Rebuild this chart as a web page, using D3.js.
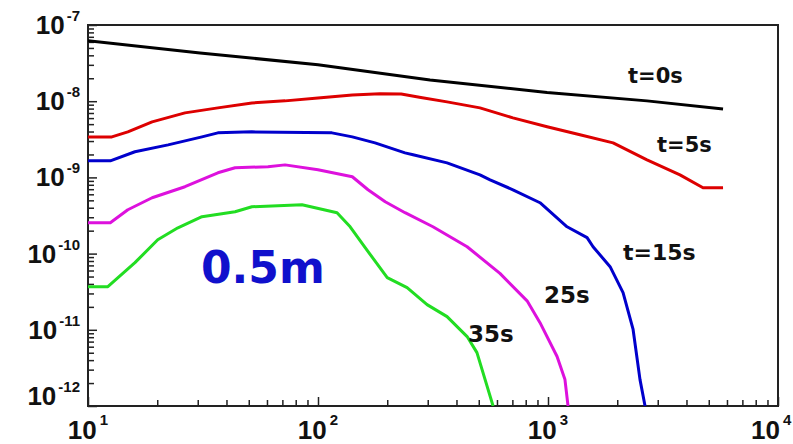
<!DOCTYPE html>
<html>
<head>
<meta charset="utf-8">
<script src="https://cdn.jsdelivr.net/npm/d3@7"></script>
<style>
  html, body { margin: 0; padding: 0; background: #fff; }
  svg { display: block; }
</style>
</head>
<body>
<svg id="chart" width="793" height="444"></svg>
<script>
// ---- data ----
const xTickExponents = [1, 2, 3, 4];
const yTickExponents = [-12, -11, -10, -9, -8, -7];

const seriesNames = ["t=0s", "t=5s", "t=15s", "25s", "35s"];

const t0 = [[10,6.2e-8],[30.7,4.3e-8],[100,3.0e-8],[307,1.9e-8],[991,1.3e-8],[2694,1.01e-8],[5768,7.9e-9]];
const t5 = [[10,3.4e-9],[12.7,3.4e-9],[14.9,3.96e-9],[19.0,5.36e-9],[26.4,7.03e-9],[36.7,8.17e-9],[51.6,9.5e-9],[71.9,1.01e-8],[100,1.10e-8],[141,1.21e-8],[186,1.25e-8],[230,1.24e-8],[280,1.12e-8],[364,9.8e-9],[506,8.17e-9],[704,6.04e-9],[991,4.61e-9],[1377,3.62e-9],[1919,2.84e-9],[2694,1.70e-9],[3748,1.08e-9],[4720,7.31e-10],[5768,7.31e-10]];
const t15 = [[10,1.65e-9],[12.5,1.65e-9],[16.0,2.17e-9],[22.3,2.67e-9],[31.3,3.40e-9],[36.7,3.84e-9],[51.6,3.96e-9],[115,3.84e-9],[141,3.40e-9],[177,2.84e-9],[239,2.10e-9],[259,1.98e-9],[364,1.55e-9],[506,1.08e-9],[560,9.3e-10],[704,6.88e-10],[923,4.65e-10],[1210,2.25e-10],[1479,1.62e-10],[1570,1.23e-10],[1862,6.73e-11],[2120,3.07e-11],[2344,1.01e-11],[2512,2.22e-12],[2642,1e-12]];
const t25 = [[10,2.54e-10],[12.5,2.54e-10],[14.9,3.76e-10],[19.0,5.41e-10],[26.4,7.54e-10],[36.7,1.15e-9],[43.6,1.34e-9],[60.6,1.38e-9],[71.9,1.46e-9],[100,1.26e-9],[141,1.02e-9],[165,6.88e-10],[196,4.79e-10],[239,3.44e-10],[316,2.25e-10],[445,1.23e-10],[618,5.5e-11],[811,2.4e-11],[923,1.24e-11],[1095,4.46e-12],[1185,2.22e-12],[1222,1e-12]];
const t35 = [[10,3.68e-11],[12.2,3.68e-11],[16.0,7.6e-11],[20.1,1.52e-10],[24.6,2.18e-10],[31.3,3.05e-10],[43.6,3.54e-10],[51.6,4.12e-10],[85.2,4.38e-10],[121,3.44e-10],[138,2.25e-10],[163,1.12e-10],[200,4.83e-11],[244,3.57e-11],[298,2.14e-11],[364,1.49e-11],[445,8.15e-12],[491,5.02e-12],[577,1e-12]];

const seriesData = [t0, t5, t15, t25, t35];
const seriesColors = ["#000000", "#dd0000", "#0000cc", "#dd11dd", "#22dd22"];

// label anchor points (left end of baseline) in data space
const labelPos = [[2228, 1.74e-8], [2978, 2.17e-9], [2120, 8.3e-11], [961, 2.28e-11], [449, 7.0e-12]];
const annotation = "0.5m";
const annotationPos = [31, 4.16e-11];

// ---- layout ----
const svg = d3.select("#chart");
const W = 793;
const L = 88, R = 778, T = 25, B = 406;
const x = d3.scaleLog().domain([10, 10000]).range([L, R]);
const y = d3.scaleLog().domain([1e-12, 1e-7]).range([B, T]);

svg.append("defs").append("clipPath").attr("id", "clip")
  .append("rect").attr("x", L).attr("y", T).attr("width", R - L).attr("height", B - T);

// minor ticks
const xMinor = [], yMinor = [];
for (let e = 1; e < 4; e++) for (let m = 2; m <= 9; m++) xMinor.push(m * Math.pow(10, e));
for (let e = -12; e < -7; e++) for (let m = 2; m <= 9; m++) yMinor.push(m * Math.pow(10, e));
const xMajor = xTickExponents.map(e => Math.pow(10, e));
const yMajor = yTickExponents.map(e => Math.pow(10, e));

function styleAxis(g) {
  g.select(".domain").remove();
  g.selectAll(".tick line").attr("stroke", "#222").attr("stroke-width", 1.5);
}

svg.append("g").attr("transform", `translate(0,${B})`)
  .call(d3.axisBottom(x).tickValues(xMinor).tickSize(-6).tickFormat(""))
  .call(styleAxis);
svg.append("g").attr("transform", `translate(0,${B})`)
  .call(d3.axisBottom(x).tickValues(xMajor).tickSize(-9).tickFormat(""))
  .call(styleAxis);
svg.append("g").attr("transform", `translate(${L},0)`)
  .call(d3.axisLeft(y).tickValues(yMinor).tickSize(-6).tickFormat(""))
  .call(styleAxis);
svg.append("g").attr("transform", `translate(${L},0)`)
  .call(d3.axisLeft(y).tickValues(yMajor).tickSize(-9).tickFormat(""))
  .call(styleAxis);

// frame
svg.append("rect").attr("x", L).attr("y", T).attr("width", R - L).attr("height", B - T)
  .attr("fill", "none").attr("stroke", "#222").attr("stroke-width", 2);

// curves
const line = d3.line().x(d => x(d[0])).y(d => y(d[1]));
const gLines = svg.append("g").attr("clip-path", "url(#clip)");
seriesData.forEach((s, i) => {
  gLines.append("path").datum(s).attr("d", line)
    .attr("fill", "none").attr("stroke", seriesColors[i])
    .attr("stroke-width", 3).attr("stroke-linejoin", "round");
});

// tick labels
const tickFont = "'Liberation Sans', Arial, Helvetica, sans-serif";
xTickExponents.forEach(e => {
  const t = svg.append("text").attr("x", x(Math.pow(10, e))).attr("y", 439)
    .attr("text-anchor", "middle").attr("font-family", tickFont)
    .attr("font-weight", "bold").attr("font-size", 26).attr("fill", "#111");
  t.append("tspan").text("10");
  t.append("tspan").attr("dy", -14).attr("dx", 3).attr("font-size", 15).text(String(e));
  // keep the last label inside the window
  const bb = t.node().getBBox();
  if (bb.x + bb.width > W - 1) t.attr("x", +t.attr("x") - (bb.x + bb.width - (W - 1)));
});
yTickExponents.forEach((e, i) => {
  const yy = y(Math.pow(10, e)) + (e === -12 ? -1 : 9);
  const t = svg.append("text").attr("x", 80).attr("y", yy)
    .attr("text-anchor", "end").attr("font-family", tickFont)
    .attr("font-weight", "bold").attr("font-size", 26).attr("fill", "#111");
  t.append("tspan").text("10");
  t.append("tspan").attr("dy", -13).attr("dx", 2).attr("font-size", 15).text(String(e));
});

// series labels
const labelFont = "'DejaVu Sans', Verdana, sans-serif";
const labelSizes = [21, 21, 22, 23, 23];
seriesNames.forEach((n, i) => {
  svg.append("text").attr("x", x(labelPos[i][0])).attr("y", y(labelPos[i][1]))
    .attr("font-family", labelFont).attr("font-weight", "bold")
    .attr("font-size", labelSizes[i]).attr("fill", "#111").text(n);
});

// annotation
svg.append("text").attr("x", x(annotationPos[0])).attr("y", y(annotationPos[1]))
  .attr("font-family", labelFont).attr("font-weight", "bold")
  .attr("font-size", 44).attr("fill", "#1010cc").text(annotation);
</script>
</body>
</html>
